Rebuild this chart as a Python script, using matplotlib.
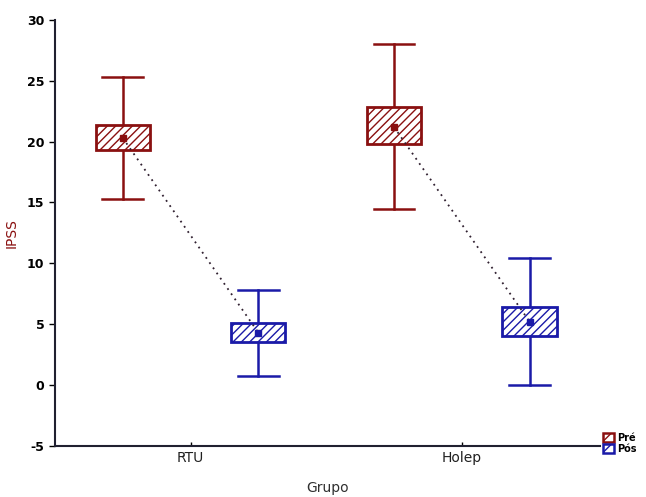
import matplotlib
matplotlib.use("Agg")
import matplotlib.pyplot as plt
from matplotlib.patches import Rectangle, Patch
import numpy as np

groups = ["RTU", "Holep"]
series = ["Pré", "Pós"]
# per series: [RTU, Holep]
mean = {"Pré": [20.3, 21.2], "Pós": [4.3, 5.2]}
box_lo = {"Pré": [19.3, 19.8], "Pós": [3.5, 4.0]}
box_hi = {"Pré": [21.4, 22.8], "Pós": [5.1, 6.4]}
wh_lo = {"Pré": [15.3, 14.5], "Pós": [0.7, 0.0]}
wh_hi = {"Pré": [25.3, 28.0], "Pós": [7.8, 10.4]}
yticks = [-5, 0, 5, 10, 15, 20, 25, 30]

colors = {"Pré": "#8a1010", "Pós": "#1a1aa8"}
offsets = {"Pré": -0.25, "Pós": 0.25}
bw = 0.2
cap = 0.15

fig = plt.figure(figsize=(6.46, 4.97), dpi=100)
ax = fig.add_axes([0.085, 0.103, 0.844, 0.857])
plt.rcParams['hatch.linewidth'] = 1.0

for i, g in enumerate(groups):
    pts = []
    for s in series:
        x = i + offsets[s]
        c = colors[s]
        plt.rcParams['hatch.color'] = c
        ax.plot([x, x], [wh_lo[s][i], box_lo[s][i]], color=c, lw=1.8, zorder=2)
        ax.plot([x, x], [box_hi[s][i], wh_hi[s][i]], color=c, lw=1.8, zorder=2)
        ax.plot([x - cap / 2, x + cap / 2], [wh_lo[s][i]] * 2, color=c, lw=1.8)
        ax.plot([x - cap / 2, x + cap / 2], [wh_hi[s][i]] * 2, color=c, lw=1.8)
        r = Rectangle((x - bw / 2, box_lo[s][i]), bw, box_hi[s][i] - box_lo[s][i],
                      facecolor="white", edgecolor=c, hatch="////", lw=2.0, zorder=3)
        ax.add_patch(r)
        ax.plot([x], [mean[s][i]], marker="s", color=c, ms=5, zorder=5)
        pts.append((x, mean[s][i]))
    ax.plot([pts[0][0], pts[1][0]], [pts[0][1], pts[1][1]], color="#302030",
            lw=1.3, ls=(0, (1, 2.5)), zorder=4)

ax.set_xlim(-0.5, 1.51)
ax.set_ylim(-5, 30)
ax.set_xticks([0, 1])
ax.set_xticklabels(groups, fontsize=10, color="#202020")
ax.set_yticks(yticks)
ax.set_yticklabels([str(v) for v in yticks], fontsize=9, fontweight="bold")
ax.tick_params(axis="y", direction="out", length=4, width=1)
ax.tick_params(axis="x", direction="in", length=3, width=1)
for sp in ["top", "right"]:
    ax.spines[sp].set_visible(False)
for sp in ["left", "bottom"]:
    ax.spines[sp].set_linewidth(1.5)
    ax.spines[sp].set_color("#202030")
ax.set_ylabel("IPSS", color="#8a1010", fontsize=10, labelpad=6)
ax.set_xlabel("Grupo", fontsize=10, color="#303030", labelpad=12)

handles = [Patch(facecolor="white", edgecolor=colors[s], hatch="///", lw=1.8, label=s)
           for s in series]
plt.rcParams['hatch.color'] = colors["Pós"]
fig.legend(handles=handles, loc="lower left", bbox_to_anchor=(0.925, 0.075),
           frameon=False, prop={"size": 7, "weight": "bold"}, handlelength=1.1,
           handleheight=1.1, handletextpad=0.3, labelspacing=0.1, borderpad=0.1)

fig.savefig("out.png", dpi=100)
